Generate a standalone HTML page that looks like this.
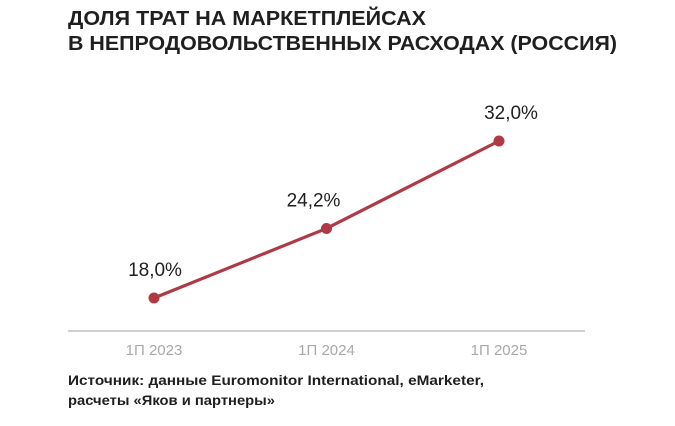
<!DOCTYPE html>
<html><head><meta charset="utf-8"><style>
html,body{margin:0;padding:0;background:#fff;}
svg{display:block;font-family:"Liberation Sans",sans-serif;}
</style></head><body>
<svg id="chart" width="675" height="426" viewBox="0 0 675 426" xmlns="http://www.w3.org/2000/svg">
<text x="68" y="25" font-size="20" font-weight="bold" fill="#1f1f1f" textLength="358" lengthAdjust="spacingAndGlyphs">ДОЛЯ ТРАТ НА МАРКЕТПЛЕЙСАХ</text>
<text x="68" y="50" font-size="20" font-weight="bold" fill="#1f1f1f" textLength="549" lengthAdjust="spacingAndGlyphs">В НЕПРОДОВОЛЬСТВЕННЫХ РАСХОДАХ (РОССИЯ)</text>
<line x1="68" y1="331" x2="585" y2="331" stroke="#b5b5b5" stroke-width="1.2"/>
<g id="marks"></g>
<text x="68" y="385" font-size="14" font-weight="bold" fill="#1f1f1f" textLength="416" lengthAdjust="spacingAndGlyphs">Источник: данные Euromonitor International, eMarketer,</text>
<text x="68" y="405" font-size="14" font-weight="bold" fill="#1f1f1f" textLength="207" lengthAdjust="spacingAndGlyphs">расчеты «Яков и партнеры»</text>
</svg>
<script>
const categories = ["1П 2023", "1П 2024", "1П 2025"];
const values = [18.0, 24.2, 32.0];
const valueLabels = ["18,0%", "24,2%", "32,0%"];
const NS = "http://www.w3.org/2000/svg";
const g = document.getElementById("marks");
const labelDx = [1, -13, 12];
function xScale(i){ return 154 + i * 172.5; }
function yScale(v){ return 298 - (v - 18) * 11.214; }
const pl = document.createElementNS(NS, "polyline");


pl.setAttribute("points", values.map((v,i)=>xScale(i)+","+yScale(v)).join(" "));
pl.setAttribute("fill","none"); pl.setAttribute("stroke","#b03a44"); pl.setAttribute("stroke-width","3.2");
g.appendChild(pl);
values.forEach((v,i)=>{
  const c = document.createElementNS(NS,"circle");
  
  
  c.setAttribute("cx", xScale(i)); c.setAttribute("cy", yScale(v)); c.setAttribute("r","5.5"); c.setAttribute("fill","#b03a44");
  g.appendChild(c);
  const t = document.createElementNS(NS,"text");
  
  
  t.setAttribute("x", xScale(i) + labelDx[i]); t.setAttribute("y", yScale(v) - 22);
  t.setAttribute("text-anchor","middle"); t.setAttribute("font-size","19"); t.setAttribute("fill","#1f1f1f");
  t.textContent = valueLabels[i];
  g.appendChild(t);
  const xl = document.createElementNS(NS,"text");
  
  
  xl.setAttribute("x", xScale(i)); xl.setAttribute("y", 355);
  xl.setAttribute("text-anchor","middle"); xl.setAttribute("font-size","15"); xl.setAttribute("fill","#a8a8a8");
  xl.textContent = categories[i];
  g.appendChild(xl);
});
</script>
</body></html>
